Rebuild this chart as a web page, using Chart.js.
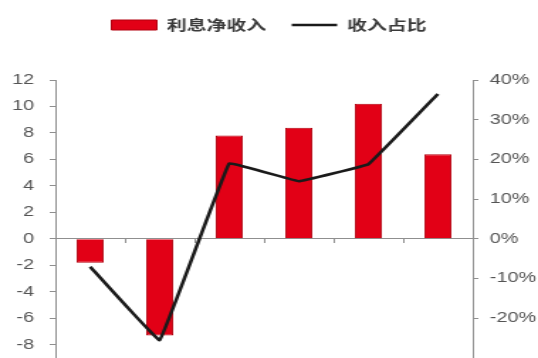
<!DOCTYPE html>
<html>
<head>
<meta charset="utf-8">
<script src="https://cdn.jsdelivr.net/npm/chart.js@4/dist/chart.umd.min.js"></script>
<style>
  html, body { margin: 0; padding: 0; background: #fff; overflow: hidden; }
  #c { display: block; transform: scale(1.4195, 1); transform-origin: 0 0; }
</style>
</head>
<body>
<canvas id="c" width="379" height="358"></canvas>
<script>
// Periods on the category axis (labels sit below the visible area)
const categories = ['1', '2', '3', '4', '5', '6'];
// 利息净收入 (left axis)
const netInterestIncome = [-1.8, -7.3, 7.8, 8.4, 10.2, 6.4];
// 收入占比, percent (right axis)
const incomeShare = [-7, -25.5, 19, 14.5, 18.8, 36.5];
// Tick values shown on each axis
const leftTicks = [-8, -6, -4, -2, 0, 2, 4, 6, 8, 10, 12];
const rightTicks = [-20, -10, 0, 10, 20, 30, 40];

const axisColor = '#8f8f8f';
const tickFont = { family: 'Liberation Sans, Arial, sans-serif', size: 14 };

// Leave room above the plot for the legend
const legendSpace = {
  id: 'legendSpace',
  beforeInit(chart) {
    const fit = chart.legend.fit;
    chart.legend.fit = function () {
      fit.call(this);
      this.height = 80;
    };
  }
};

// Value axes run to the bottom edge of the canvas
function fixAxis(width) {
  return function (scale) {
    scale.width = width;
    scale.paddingTop = 0;
    scale.paddingBottom = 0;
  };
}

new Chart(document.getElementById('c'), {
  data: {
    labels: categories,
    datasets: [
      {
        type: 'bar',
        label: '利息净收入',
        data: netInterestIncome,
        yAxisID: 'y',
        backgroundColor: '#e20016',
        borderColor: '#b3000f',
        borderWidth: 1,
        barPercentage: 0.39,
        categoryPercentage: 1,
        pointStyle: 'rect',
        order: 2
      },
      {
        type: 'line',
        label: '收入占比',
        data: incomeShare,
        yAxisID: 'y1',
        borderColor: '#1a1a1a',
        backgroundColor: '#1a1a1a',
        borderWidth: 2.6,
        pointRadius: 0,
        pointHoverRadius: 0,
        tension: 0.04,
        pointStyle: 'line',
        order: 1
      }
    ]
  },
  options: {
    responsive: false,
    animation: false,
    layout: { padding: 0 },
    plugins: {
      tooltip: { enabled: false },
      legend: {
        position: 'top',
        labels: {
          usePointStyle: true,
          pointStyleWidth: 32,
          boxHeight: 10,
          padding: 18,
          color: '#3a3a3a',
          font: { family: 'Noto Sans CJK SC, sans-serif', size: 14, weight: 'bold' },
          sort: (a, b) => a.datasetIndex - b.datasetIndex
        }
      }
    },
    scales: {
      x: {
        position: { y: 0 },
        offset: true,
        afterFit(scale) { scale.height = 0; },
        grid: {
          offset: true,
          drawOnChartArea: false,
          drawTicks: true,
          tickLength: 4,
          color: axisColor
        },
        border: { display: true, color: axisColor, width: 1 },
        ticks: { display: false }
      },
      y: {
        position: 'left',
        min: -9,
        max: 12,
        afterBuildTicks(scale) {
          scale.ticks = leftTicks.map(v => ({ value: v }));
        },
        afterFit: fixAxis(39),
        grid: { drawOnChartArea: false, tickLength: 4, color: axisColor },
        border: { display: true, color: axisColor, width: 1 },
        ticks: { padding: 11, color: '#555', font: tickFont }
      },
      y1: {
        position: 'right',
        min: -30,
        max: 40,
        afterBuildTicks(scale) {
          scale.ticks = rightTicks.map(v => ({ value: v }));
        },
        afterFit: fixAxis(46),
        grid: { drawOnChartArea: false, tickLength: 4, color: axisColor },
        border: { display: true, color: axisColor, width: 1 },
        ticks: { padding: 8, color: '#555', font: tickFont, callback: v => v + '%' }
      }
    }
  },
  plugins: [legendSpace]
});
</script>
</body>
</html>
